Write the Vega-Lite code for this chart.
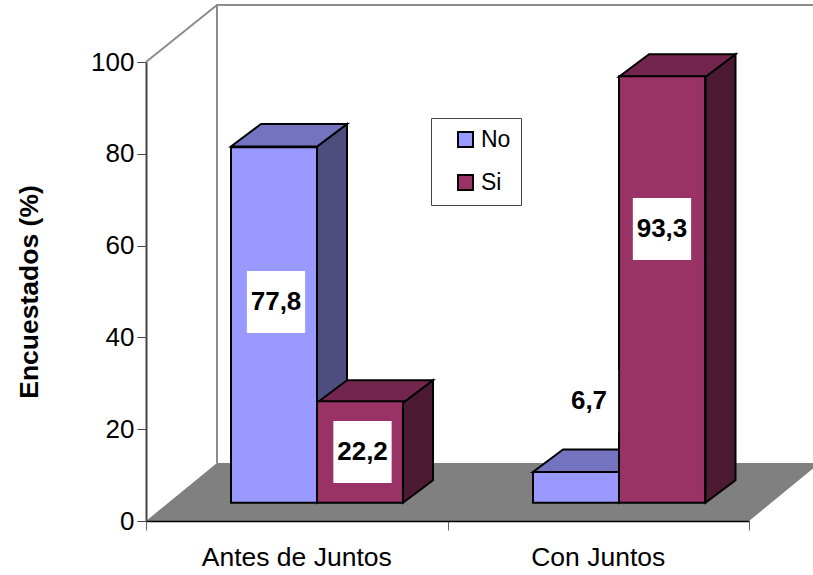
{
"$schema":"https://vega.github.io/schema/vega-lite/v6.json",
"autosize":{"type":"none"},
"padding":{"left":146,"top":62,"right":64,"bottom":54},
"width":603,"height":459,
"background":"white",
"config":{"view":{"stroke":null},"font":"Liberation Sans"},
"datasets":{
"bars":[
{"group":"Antes de Juntos","series":"No","value":77.8},
{"group":"Antes de Juntos","series":"Si","value":22.2},
{"group":"Con Juntos","series":"No","value":6.7},
{"group":"Con Juntos","series":"Si","value":93.3}],
"walls":[
{"seg":"a","i":1,"x":0,"y":100},
{"seg":"a","i":2,"x":0.2355,"y":112.42},
{"seg":"b","i":1,"x":0.2355,"y":12.64},
{"seg":"b","i":2,"x":0.2355,"y":112.42},
{"seg":"b","i":3,"x":2.22,"y":112.42}],
"floor":[
{"y":0,"x":0,"x2":2},
{"y":12.64,"x":0.2355,"x2":2.235}],
"sides":[
{"id":"a","series":"No","x":0.5672,"y":3.99,"y2":81.59},
{"id":"a","series":"No","x":0.6667,"y":8.87,"y2":86.49},
{"id":"b","series":"Si","x":0.8524,"y":3.99,"y2":25.77},
{"id":"b","series":"Si","x":0.9519,"y":8.87,"y2":30.68},
{"id":"c","series":"No","x":1.5688,"y":3.99,"y2":10.68},
{"id":"c","series":"No","x":1.6683,"y":8.87,"y2":15.58},
{"id":"d","series":"Si","x":1.8557,"y":3.99,"y2":96.8},
{"id":"d","series":"Si","x":1.9552,"y":8.87,"y2":101.7}],
"tops":[
{"id":"a","series":"No","y":81.59,"x":0.2819,"x2":0.5672},
{"id":"a","series":"No","y":86.49,"x":0.3814,"x2":0.6667},
{"id":"b","series":"Si","y":25.77,"x":0.5672,"x2":0.8524},
{"id":"b","series":"Si","y":30.68,"x":0.6667,"x2":0.9519},
{"id":"c","series":"No","y":10.68,"x":1.2836,"x2":1.5688},
{"id":"c","series":"No","y":15.58,"x":1.3831,"x2":1.6683},
{"id":"d","series":"Si","y":96.8,"x":1.5688,"x2":1.8557},
{"id":"d","series":"Si","y":101.7,"x":1.6683,"x2":1.9552}],
"labels":[
{"label":"77,8","x":0.4312,"y":47.71},
{"label":"22,2","x":0.7181,"y":15.03},
{"label":"6,7","x":1.4693,"y":26.14},
{"label":"93,3","x":1.7114,"y":63.62}]
},
"resolve":{"scale":{"x":"independent","y":"independent","color":"independent"},"axis":{"x":"independent","y":"independent"}},
"layer":[
{"data":{"name":"walls"},
 "mark":{"type":"line","color":"#8c8c8c","strokeWidth":2},
 "encoding":{
  "x":{"field":"x","type":"quantitative","scale":{"domain":[0,2]},"axis":null},
  "y":{"field":"y","type":"quantitative","scale":{"domain":[0,100]},"axis":null},
  "detail":{"field":"seg"},
  "order":{"field":"i"}}},
{"data":{"name":"floor"},
 "mark":{"type":"area","orient":"horizontal","color":"#808080"},
 "encoding":{
  "y":{"field":"y","type":"quantitative","scale":{"domain":[0,100],"nice":false},
   "axis":{"orient":"left","values":[0,20,40,60,80,100],"title":"Encuestados (%)","titleFont":"Liberation Sans","titleFontWeight":"bold","titleFontSize":26.5,"titleColor":"black","titlePadding":47,"titleAnchor":"middle","labelFontSize":26,"labelColor":"black","labelPadding":3,"labelBound":false,"tickColor":"#444444","tickSize":9,"tickWidth":1,"domainColor":"#444444","domainWidth":2,"grid":false,"zindex":1}},
  "x":{"field":"x","type":"quantitative","scale":{"domain":[0,2],"nice":false},
   "axis":{"orient":"bottom","values":[0,1,2],"labels":false,"title":null,"tickColor":"#666666","tickSize":9,"tickWidth":1,"domainColor":"black","domainWidth":1.5,"grid":false,"zindex":1}},
  "x2":{"field":"x2"}}},
{"data":{"name":"bars"},
 "mark":{"type":"bar","opacity":0},
 "encoding":{
  "x":{"field":"group","type":"nominal","scale":{"paddingInner":0,"paddingOuter":0},
   "axis":{"orient":"bottom","title":null,"ticks":false,"domain":false,"labelAngle":0,"labelFontSize":26.5,"labelColor":"black","labelPadding":23,"labelLimit":0}},
  "y":{"field":"value","type":"quantitative","scale":{"domain":[0,100]},"axis":null}}},
{"data":{"name":"sides"},
 "mark":{"type":"area","stroke":"black","strokeWidth":2,"strokeJoin":"miter"},
 "encoding":{
  "x":{"field":"x","type":"quantitative","scale":{"domain":[0,2]},"axis":null},
  "y":{"field":"y","type":"quantitative","scale":{"domain":[0,100]},"axis":null},
  "y2":{"field":"y2"},
  "detail":{"field":"id"},
  "color":{"field":"series","type":"nominal","scale":{"domain":["No","Si"],"range":["#4d4d80","#4d1a33"]},"legend":null}}},
{"data":{"name":"tops"},
 "mark":{"type":"area","orient":"horizontal","stroke":"black","strokeWidth":2,"strokeJoin":"miter"},
 "encoding":{
  "y":{"field":"y","type":"quantitative","scale":{"domain":[0,100]},"axis":null},
  "x":{"field":"x","type":"quantitative","scale":{"domain":[0,2]},"axis":null},
  "x2":{"field":"x2"},
  "detail":{"field":"id"},
  "color":{"field":"series","type":"nominal","scale":{"domain":["No","Si"],"range":["#7373bf","#73264d"]},"legend":null}}},
{"data":{"name":"bars"},
 "mark":{"type":"bar","stroke":"black","strokeWidth":2},
 "encoding":{
  "x":{"field":"group","type":"nominal","scale":{"range":[20,624],"paddingInner":0,"paddingOuter":0},"axis":null},
  "xOffset":{"field":"series","type":"nominal","scale":{"paddingInner":0,"paddingOuter":0.756}},
  "y":{"field":"value","type":"quantitative","scale":{"domain":[0,100],"range":[440.7,-16.3]},"axis":null},
  "color":{"field":"series","type":"nominal","scale":{"domain":["No","Si"],"range":["#9999ff","#993366"]},
   "legend":{"orient":"none","legendX":285,"legendY":56,"title":null,"symbolType":"square","symbolSize":225,"symbolStrokeColor":"black","symbolStrokeWidth":2,"symbolOpacity":1,"symbolOffset":13,"labelFontSize":23,"labelColor":"black","labelOffset":4,"rowPadding":19,"padding":10,"strokeColor":"#444444","fillColor":"white"}}}},
{"data":{"name":"labels"},
 "mark":{"type":"point","filled":true,"fill":"white","opacity":1,"stroke":null,"shape":"M-0.94 -1H0.94V1H-0.94Z","size":3844},
 "encoding":{
  "x":{"field":"x","type":"quantitative","scale":{"domain":[0,2]},"axis":null},
  "y":{"field":"y","type":"quantitative","scale":{"domain":[0,100]},"axis":null}}},
{"data":{"name":"labels"},
 "mark":{"type":"text","font":"Liberation Sans","fontWeight":"bold","fontSize":26,"color":"black"},
 "encoding":{
  "x":{"field":"x","type":"quantitative","scale":{"domain":[0,2]},"axis":null},
  "y":{"field":"y","type":"quantitative","scale":{"domain":[0,100]},"axis":null},
  "text":{"field":"label"}}}
]
}
